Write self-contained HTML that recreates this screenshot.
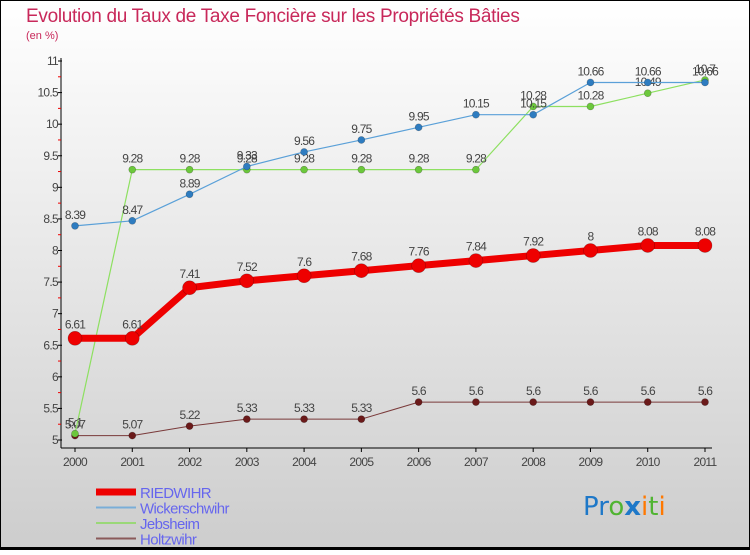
<!DOCTYPE html>
<html><head><meta charset="utf-8"><style>
html,body{margin:0;padding:0;}
body{width:750px;height:550px;overflow:hidden;font-family:"Liberation Sans",sans-serif;}
</style></head><body>
<svg id="chart" width="750" height="550" xmlns="http://www.w3.org/2000/svg">
<defs><linearGradient id="bg" x1="0" y1="0" x2="0" y2="1"><stop offset="0" stop-color="#ffffff"/><stop offset="1" stop-color="#cdcdcd"/></linearGradient></defs>
<rect x="0.5" y="0.5" width="749" height="549" fill="url(#bg)" stroke="#000" stroke-width="1"/>
<rect x="0" y="547" width="750" height="3" fill="#000"/>
<text x="26" y="22" font-size="19" fill="#c8285a" letter-spacing="-0.3">Evolution du Taux de Taxe Foncière sur les Propriétés Bâties</text>
<text x="26" y="39" font-size="11" fill="#c8285a">(en %)</text>
<g id="axes"></g><g id="series"></g><g id="legend"></g>
<text x="583" y="515" font-size="26" font-family="DejaVu Sans, sans-serif"><tspan fill="#1e78c8">Pr</tspan><tspan fill="#50b432">o</tspan><tspan fill="#1e78c8" font-weight="bold">x</tspan><tspan fill="#ff7800">i</tspan><tspan fill="#50b432">t</tspan><tspan fill="#ff7800">i</tspan></text>
</svg>
<script>
const years=[2000,2001,2002,2003,2004,2005,2006,2007,2008,2009,2010,2011];
const yTicks=[5,5.5,6,6.5,7,7.5,8,8.5,9,9.5,10,10.5,11];
const riedwihr=[6.61,6.61,7.41,7.52,7.6,7.68,7.76,7.84,7.92,8,8.08,8.08];
const wickerschwihr=[8.39,8.47,8.89,9.33,9.56,9.75,9.95,10.15,10.15,10.66,10.66,10.66];
const jebsheim=[5.1,9.28,9.28,9.28,9.28,9.28,9.28,9.28,10.28,10.28,10.49,10.7];
const holtzwihr=[5.07,5.07,5.22,5.33,5.33,5.33,5.6,5.6,5.6,5.6,5.6,5.6];
const seriesNames=["RIEDWIHR","Wickerschwihr","Jebsheim","Holtzwihr"];
const NS="http://www.w3.org/2000/svg";
const xS=i=>75+i*(630/11);
const yS=v=>440-(v-5)*(379/6);
function mk(tag,attrs,parent){const e=document.createElementNS(NS,tag);for(const k in attrs)e.setAttribute(k,attrs[k]);parent.appendChild(e);return e;}
const ax=document.getElementById('axes');
let yl=mk('line',{x1:61,y1:58,x2:61,y2:448,stroke:'#000','stroke-width':1},ax);


let xl=mk('line',{x1:61,y1:448,x2:712,y2:448,stroke:'#000','stroke-width':1},ax);


yTicks.forEach((t,i)=>{const y=yS(t);
 mk('line',{x1:58,y1:y,x2:62,y2:y,stroke:'#000'},ax);
 const tx=mk('text',{x:58,y:y+4,'font-size':12,fill:'#444','text-anchor':'end','letter-spacing':'-0.7'},ax);tx.textContent=t;
 
 
 if(i<yTicks.length-1){const m=yS(t+0.25);mk('line',{x1:58,y1:m,x2:61,y2:m,stroke:'#e00'},ax);}
});
years.forEach((yr,i)=>{const x=xS(i);
 mk('line',{x1:x,y1:448,x2:x,y2:452,stroke:'#000'},ax);
 const tx=mk('text',{x:x,y:466,'font-size':12,fill:'#444','text-anchor':'middle','letter-spacing':'-0.7'},ax);tx.textContent=yr;
 
 
});
const sg=document.getElementById('series');
const cfg=[[holtzwihr,'#7a3a3a','#6b1a1a',1,3.5,'holtzwihr'],[jebsheim,'#8de060','#6cc83c',1.2,3.5,'jebsheim'],[wickerschwihr,'#5aa0d8','#2e7cc0',1.2,3.5,'wickerschwihr'],[riedwihr,'#ee0000','#ee0000',7,7,'riedwihr']];
cfg.forEach(([d,lc,pc,w,r,name])=>{
 const g=mk('g',{},sg);
 
 
 const pl=mk('polyline',{points:d.map((v,i)=>xS(i)+','+yS(v)).join(' '),fill:'none',stroke:lc,'stroke-width':w,'stroke-linejoin':'round'},g);
 
 
 d.forEach((v,i)=>{
  const c=mk('circle',{cx:xS(i),cy:yS(v),r:r,fill:pc,stroke:'rgba(0,0,0,0.3)','stroke-width':0.6},g);
  
  
  const t=mk('text',{x:xS(i),y:yS(v)-(r>5?10:7),'font-size':12,fill:'#444','text-anchor':'middle','letter-spacing':'-0.8'},g);
  t.textContent=v;
  
  
 });
});
const lg=document.getElementById('legend');
const lcfg=[['#ee0000',7],['#7aaed8',2],['#9ad878',2],['#8a5a5a',2]];
seriesNames.forEach((n,i)=>{const y=492+i*15.5;
 const g=mk('g',{},lg);
 
 
 mk('line',{x1:96,y1:y,x2:136,y2:y,stroke:lcfg[i][0],'stroke-width':lcfg[i][1]},g);
 const t=mk('text',{x:140,y:y+6,'font-size':15,fill:'#6666ee','letter-spacing':'-0.6'},g);t.textContent=n;
 
 
});
</script>
</body></html>
